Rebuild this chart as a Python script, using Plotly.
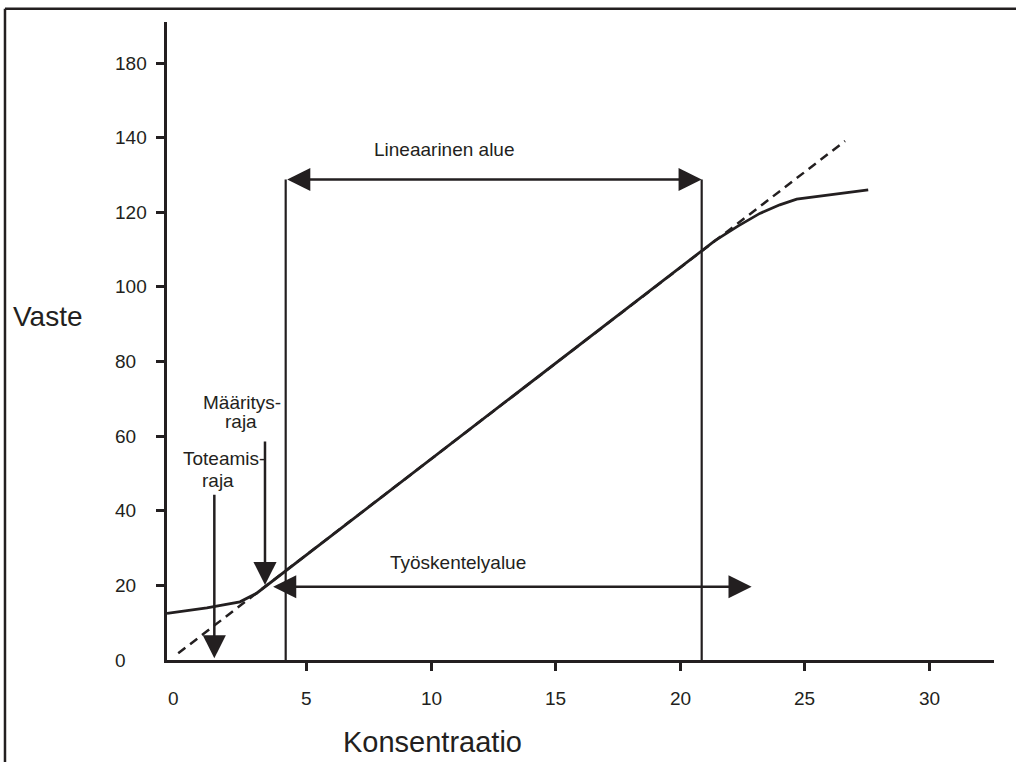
import plotly.graph_objects as go

INK = "#231f20"
FONT = "Liberation Sans, Arial, sans-serif"

# ---- data ----
curve_x = [-0.6, 1.0, 2.33, 3.0, 21.4, 22.32, 23.2, 24.0, 24.68, 27.55]
curve_y = [12.5, 14.0, 15.6, 17.9, 112.4, 116.3, 119.7, 122.0, 123.5, 126.0]

dashed_x = [-0.15, 26.62]
dashed_y = [1.8, 139.1]

linear_range = [4.165, 20.865]      # vertical limits of the linear range
linear_arrow_y = 128.8
working_range = [3.60, 22.87]       # arrow of the working range
working_arrow_y = 19.65
loq_x, loq_from, loq_to = 3.334, 58.97, 20.1     # Määritysraja
lod_x, lod_from, lod_to = 1.30, 44.7, 0.46      # Toteamisraja

x_tickvals = [5, 10, 15, 20, 25, 30]
x_labels = ["0", "5", "10", "15", "20", "25", "30"]
x_label_pos = [-0.35, 5, 10, 15, 20, 25, 30]

y_tickvals = [20, 40, 60, 80, 100, 120, 140, 160]
y_labels = ["0", "20", "40", "60", "80", "100", "120", "140", "180"]
y_label_pos = [0, 20, 40, 60, 80, 100, 120, 140, 160]

fig = go.Figure()

fig.add_trace(go.Scatter(x=dashed_x, y=dashed_y, mode="lines",
                         line=dict(color=INK, width=2.5, dash="9px,6px"),
                         hoverinfo="skip", showlegend=False))
fig.add_trace(go.Scatter(x=curve_x, y=curve_y, mode="lines",
                         line=dict(color=INK, width=2.8),
                         hoverinfo="skip", showlegend=False))
for xv in linear_range:
    fig.add_trace(go.Scatter(x=[xv, xv], y=[0, linear_arrow_y], mode="lines",
                             line=dict(color=INK, width=2.2),
                             hoverinfo="skip", showlegend=False))

ann = []

def arrow(x, y, ax, ay, double=False):
    d = dict(x=x, y=y, ax=ax, ay=ay, xref="x", yref="y", axref="x", ayref="y",
             text="", showarrow=True, arrowhead=2, arrowsize=1.85, arrowwidth=2.5,
             arrowcolor=INK, standoff=0, startstandoff=0)
    if double:
        d.update(arrowside="end+start", startarrowhead=2, startarrowsize=1.85)
    ann.append(d)

arrow(linear_range[1], linear_arrow_y, linear_range[0], linear_arrow_y, double=True)
arrow(working_range[1], working_arrow_y, working_range[0], working_arrow_y, double=True)
arrow(loq_x, loq_to, loq_x, loq_from)
arrow(lod_x, lod_to, lod_x, lod_from)

def label(text, x, y, size=19, xref="x", yref="y", xanchor="center"):
    ann.append(dict(text=text, x=x, y=y, xref=xref, yref=yref, showarrow=False,
                    xanchor=xanchor, yanchor="middle",
                    font=dict(family=FONT, size=size, color=INK)))

label("Lineaarinen alue", 10.56, 136.7)
label("Työskentelyalue", 11.08, 26.0)
label("Määritys-", 2.40, 69.1)
label("raja", 2.37, 63.9)
label("Toteamis-", 1.69, 54.1)
label("raja", 1.45, 48.0)

for t, p in zip(x_labels, x_label_pos):
    label(t, p, -0.0596, yref="paper")
for t, p in zip(y_labels, y_label_pos):
    label(t, -0.0653, p, xref="paper", xanchor="left")

label("Vaste", -0.1439, 0.539, size=28, xref="paper", yref="paper")
label("Konsentraatio", 0.321, -0.129, size=29, xref="paper", yref="paper")

shapes = [
    dict(type="line", xref="paper", yref="paper", x0=-0.1959, y0=1.0208, x1=1.05, y1=1.0208,
         line=dict(color=INK, width=2.5)),
    dict(type="line", xref="paper", yref="paper", x0=-0.1959, y0=1.0208, x1=-0.1959, y1=-0.2,
         line=dict(color=INK, width=2.5)),
]

axis_common = dict(showgrid=False, zeroline=False, showline=True, linecolor=INK,
                   linewidth=3, ticks="outside", ticklen=8, tickwidth=2.5,
                   tickcolor=INK, showticklabels=False, fixedrange=True)

fig.update_layout(
    width=1016, height=762,
    margin=dict(l=167, r=22, t=22, b=102, pad=0),
    paper_bgcolor="white", plot_bgcolor="white",
    xaxis=dict(range=[-0.6, 32.6], tickvals=x_tickvals, **axis_common),
    yaxis=dict(range=[0, 171], tickvals=y_tickvals, **axis_common),
    annotations=ann, shapes=shapes,
    font=dict(family=FONT, color=INK),
    showlegend=False,
)

fig.write_html("out.html")
